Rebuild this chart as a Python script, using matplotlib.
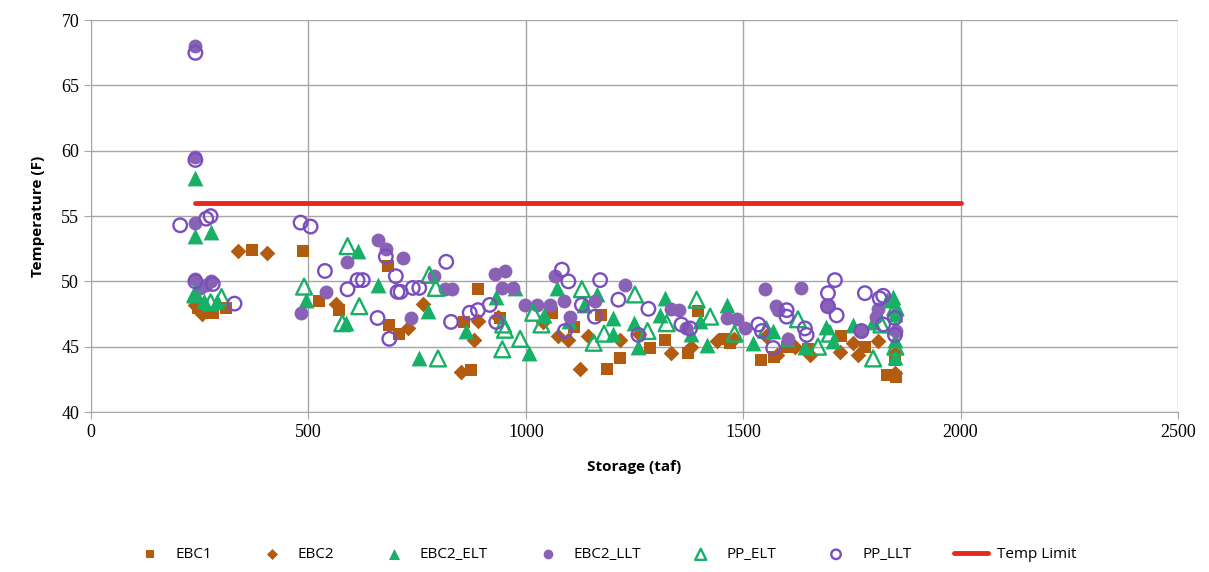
import matplotlib
matplotlib.use("Agg")
import matplotlib.pyplot as plt

# ---- data ----
ebc1_x = [245, 270, 280, 310, 370, 488, 525, 571, 682, 686, 709, 859, 874, 890, 940, 1060, 1110, 1174, 1186,
          1217, 1286, 1320, 1374, 1397, 1456, 1470, 1542, 1570, 1600, 1650, 1726, 1780, 1830, 1850, 1852]
ebc1_y = [48.0, 47.6, 47.6, 48.0, 52.4, 52.3, 48.5, 47.8, 51.2, 46.7, 46.0, 46.9, 43.2, 49.4, 47.2, 47.6, 46.5, 47.4, 43.3,
          44.1, 44.9, 45.5, 44.5, 47.7, 45.6, 45.3, 44.0, 44.2, 45.0, 44.8, 45.8, 45.0, 42.8, 44.0, 42.7]

ebc2_x = [240, 255, 338, 404, 563, 728, 763, 850, 882, 890, 936, 1040, 1075, 1098, 1125, 1144, 1217, 1260, 1335,
          1381, 1439, 1480, 1553, 1577, 1620, 1653, 1722, 1752, 1764, 1810, 1849, 1850]
ebc2_y = [48.2, 47.5, 52.3, 52.2, 48.3, 46.4, 48.3, 43.1, 45.5, 47.0, 47.3, 46.9, 45.8, 45.5, 43.3, 45.8, 45.5, 46.0, 44.5,
          45.0, 45.4, 45.6, 45.8, 44.4, 45.0, 44.4, 44.6, 45.3, 44.4, 45.4, 43.0, 44.5]

ebc2_elt_x = [240, 240, 275, 240, 260, 290, 494, 586, 615, 659, 755, 774, 863, 932, 975, 1008, 1041, 1071, 1100, 1133,
              1163, 1200, 1201, 1250, 1259, 1309, 1320, 1381, 1400, 1416, 1462, 1522, 1569, 1600, 1642, 1691, 1707,
              1752, 1799, 1830, 1845, 1849, 1850, 1850, 1850, 1852]
ebc2_elt_y = [57.9, 53.5, 53.8, 49.0, 48.5, 48.5, 48.6, 46.8, 52.3, 49.7, 44.1, 47.7, 46.2, 48.8, 49.5, 44.5, 47.4, 49.5, 47.0, 48.2,
              49.0, 47.2, 46.0, 46.8, 45.0, 47.4, 48.7, 46.0, 47.0, 45.1, 48.2, 45.3, 46.2, 45.6, 45.0, 46.5, 45.4,
              46.7, 46.9, 48.6, 48.8, 44.2, 47.5, 46.5, 45.5, 48.0]

ebc2_llt_x = [240, 240, 240, 240, 250, 265, 275, 482, 541, 588, 659, 678, 717, 736, 790, 814, 830, 930, 945, 952,
              971, 998, 1026, 1056, 1067, 1087, 1102, 1159, 1228, 1335, 1353, 1368, 1462, 1485, 1504, 1550, 1576,
              1580, 1603, 1634, 1695, 1768, 1806, 1810, 1852]
ebc2_llt_y = [68.0, 59.5, 54.5, 50.2, 49.5, 49.7, 50.0, 47.6, 49.2, 51.5, 53.2, 52.5, 51.8, 47.2, 50.4, 49.4, 49.4, 50.6, 49.5, 50.8,
              49.5, 48.2, 48.2, 48.2, 50.4, 48.5, 47.3, 48.5, 49.7, 47.9, 47.8, 46.4, 47.2, 47.1, 46.4, 49.4, 48.1,
              47.8, 45.6, 49.5, 48.1, 46.2, 47.3, 47.9, 46.2]

pp_elt_x = [240, 275, 300, 490, 578, 590, 617, 778, 793, 798, 946, 948, 952, 987, 1017, 1036, 1129, 1156, 1180,
            1251, 1280, 1324, 1393, 1424, 1480, 1553, 1626, 1672, 1699, 1799, 1818, 1850, 1850]
pp_elt_y = [49.0, 48.4, 48.8, 49.6, 46.8, 52.7, 48.1, 50.5, 49.5, 44.1, 44.8, 46.7, 46.3, 45.6, 47.6, 46.7, 49.4, 45.3, 46.0,
            49.0, 46.2, 46.8, 48.6, 47.3, 46.0, 46.3, 47.1, 45.0, 46.0, 44.1, 46.7, 45.0, 48.0]

pp_llt_x = [205, 240, 240, 265, 275, 240, 330, 280, 482, 505, 538, 590, 613, 625, 659, 678, 686, 701, 705, 712,
            740, 755, 817, 828, 871, 890, 917, 932, 1083, 1090, 1098, 1129, 1159, 1171, 1213, 1259, 1282, 1358,
            1378, 1535, 1543, 1569, 1600, 1600, 1642, 1646, 1695, 1695, 1711, 1715, 1772, 1780, 1814, 1822, 1822,
            1849, 1849]
pp_llt_y = [54.3, 67.5, 59.3, 54.8, 55.0, 50.0, 48.3, 49.8, 54.5, 54.2, 50.8, 49.4, 50.1, 50.1, 47.2, 51.9, 45.6, 50.4, 49.2, 49.2,
            49.5, 49.5, 51.5, 46.9, 47.6, 47.8, 48.2, 46.9, 50.9, 46.2, 50.0, 48.2, 47.3, 50.1, 48.6, 45.9, 47.9, 46.7,
            46.4, 46.7, 46.2, 44.9, 47.8, 47.3, 46.4, 45.9, 49.1, 48.1, 50.1, 47.4, 46.2, 49.1, 48.7, 48.9, 46.7,
            45.9, 47.2]

limit_x = [240, 2000]
limit_y = [56, 56]

x_ticks = [0, 500, 1000, 1500, 2000, 2500]
y_ticks = [40, 45, 50, 55, 60, 65, 70]

# ---- style ----
brown = '#B35C10'
green = '#17B066'
purple_f = '#8A62B5'
purple_o = '#7B4EC0'
red = '#E8281C'

fig = plt.figure(figsize=(12.09, 5.72), dpi=100)
ax = fig.add_axes([0.0753, 0.2797, 0.899, 0.685])

ax.scatter(ebc1_x, ebc1_y, marker='s', s=72, color=brown, linewidths=0, zorder=3, label='EBC1')
ax.scatter(ebc2_x, ebc2_y, marker='D', s=64, color=brown, linewidths=0, zorder=3, label='EBC2')
ax.scatter(ebc2_elt_x, ebc2_elt_y, marker='^', s=130, color=green, linewidths=0, zorder=3, label='EBC2_ELT')
ax.scatter(ebc2_llt_x, ebc2_llt_y, marker='o', s=100, color=purple_f, linewidths=0, zorder=3, label='EBC2_LLT')
ax.scatter(pp_elt_x, pp_elt_y, marker='^', s=130, facecolors='none', edgecolors=green, linewidths=1.7,
           zorder=3, label='PP_ELT')
ax.scatter(pp_llt_x, pp_llt_y, marker='o', s=95, facecolors='none', edgecolors=purple_o, linewidths=1.7,
           zorder=3, label='PP_LLT')
ax.plot(limit_x, limit_y, color=red, lw=3.5, solid_capstyle='round', zorder=4, label='Temp Limit')

ax.set_xlim(0, 2500)
ax.set_ylim(40, 70)
ax.set_xticks(x_ticks)
ax.set_yticks(y_ticks)
ax.grid(True, color='#A6A6A6', lw=1.0, zorder=0)
ax.set_axisbelow(True)
for s in ['top', 'right']:
    ax.spines[s].set_visible(False)
for s in ['left', 'bottom']:
    ax.spines[s].set_color('#A6A6A6')
ax.tick_params(axis='x', colors='#A6A6A6', length=5, labelcolor='black')
ax.tick_params(axis='y', colors='#A6A6A6', length=5, labelcolor='black')
for lab in ax.get_xticklabels() + ax.get_yticklabels():
    lab.set_family('Liberation Serif')
    lab.set_fontsize(13)

ax.set_xlabel('Storage (taf)', fontsize=11, fontweight='bold', family='Open Sans', labelpad=14)
ax.set_ylabel('Temperature (F)', fontsize=11, fontweight='bold', family='Open Sans', labelpad=12)

handles, labels = ax.get_legend_handles_labels()
leg = fig.legend(handles, labels, loc='center', bbox_to_anchor=(0.5, 0.03), ncol=7, frameon=False,
                 prop={'family': 'Open Sans', 'size': 11}, columnspacing=2.8, handlelength=2.2,
                 markerscale=0.7, handletextpad=0.6)

fig.savefig('out.png', dpi=100)
